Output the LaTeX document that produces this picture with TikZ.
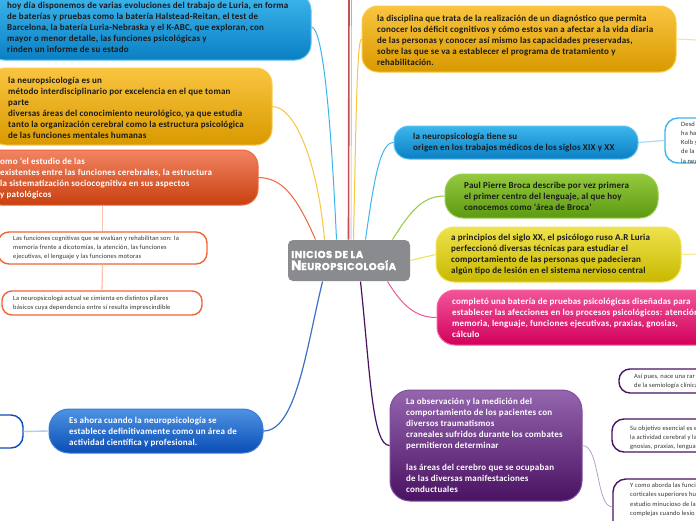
\documentclass[tikz,border=0pt]{standalone}
\usepackage{fontspec}
\setmainfont{Carlito}
\newfontfamily\bodyfont{Carlito}[LetterSpace=2.2]
\newfontfamily\smallfont{Carlito}[LetterSpace=2.5]
\newfontfamily\titlefont{Poppins}[LetterSpace=5, FakeBold=1.2]
\usetikzlibrary{calc}
\definecolor{blueA}{HTML}{3DB5EC}\definecolor{blueB}{HTML}{0A80C4}\definecolor{blueE}{HTML}{5CC4F2}
\definecolor{orA}{HTML}{F9C440}\definecolor{orB}{HTML}{D99A00}\definecolor{orE}{HTML}{FBCB45}
\definecolor{rdA}{HTML}{F28462}\definecolor{rdB}{HTML}{C8400F}\definecolor{rdE}{HTML}{F0643A}
\definecolor{grA}{HTML}{93C93E}\definecolor{grB}{HTML}{5C9A12}\definecolor{grE}{HTML}{9ACD48}
\definecolor{yeA}{HTML}{EEE24C}\definecolor{yeB}{HTML}{C9B800}\definecolor{yeE}{HTML}{F0E45A}
\definecolor{pkA}{HTML}{F2559A}\definecolor{pkB}{HTML}{D2005C}\definecolor{pkE}{HTML}{F4609F}
\definecolor{puA}{HTML}{9565AE}\definecolor{puB}{HTML}{4A1262}\definecolor{puE}{HTML}{8050A0}
\definecolor{dbA}{HTML}{4E93E2}\definecolor{dbB}{HTML}{0A4DB6}\definecolor{dbE}{HTML}{3A7CD8}
\definecolor{gray1}{HTML}{8A8B8F}
\definecolor{vline}{HTML}{C0504D}
\definecolor{txt}{HTML}{1A1A1A}
\tikzset{
  mbox/.style={rectangle, line width=1pt, inner sep=0pt},
  sbox/.style={rectangle, line width=1.4pt, fill=white, inner sep=0pt},
  mtext/.style={anchor=west, align=left, inner sep=0pt, font=\bodyfont\bfseries\fontsize{9}{11}\selectfont},
  stext/.style={anchor=west, align=left, inner sep=0pt, text=black!80, font=\smallfont\fontsize{6.5}{9.2}\selectfont},
  conn/.style={line width=1pt},
}
\begin{document}
\begin{tikzpicture}[x=1pt,y=-1pt]
\useasboundingbox (0,0) rectangle (696,520);
\fill[white] (0,0) rectangle (696,520);

% ---------- free ends ----------
\coordinate (topA) at (349,0);
\coordinate (topB) at (351.5,0);
\coordinate (rO) at (696,40);
\coordinate (rY) at (696,254);

% ---------- boxes ----------
\node[mbox, rounded corners=16pt, draw=blueE, top color=blueA, bottom color=blueB, minimum width=323, minimum height=66] (b1) at (149.5,27) {};
\node[mbox, rounded corners=16pt, draw=orE, top color=orA, bottom color=orB, minimum width=282, minimum height=77] (b2) at (131,106.5) {};
\node[mbox, rounded corners=16pt, draw=rdE, top color=rdA, bottom color=rdB, minimum width=273, minimum height=55] (b3) at (121.5,177.5) {};
\node[sbox, rounded corners=11pt, draw=rdE, minimum width=209, minimum height=32] (b4) at (102.5,248) {};
\node[sbox, rounded corners=10pt, draw=rdE, minimum width=200, minimum height=24] (b5) at (102,303) {};
\node[mbox, rounded corners=20pt, draw=dbE, top color=dbA, bottom color=dbB, minimum width=214, minimum height=44] (b6) at (156,431) {};
\node[sbox, rounded corners=12pt, draw=dbB, minimum width=63, minimum height=33] (b7) at (-8.5,431.5) {};
\node[mbox, rounded corners=5pt, fill=gray1, minimum width=122, minimum height=41] (ctr) at (349,260.5) {};
\node[mbox, rounded corners=16pt, draw=orE, top color=orA, bottom color=orB, minimum width=314, minimum height=66] (b9) at (519,39) {};
\node[mbox, rounded corners=15pt, draw=blueE, top color=blueA, bottom color=blueB, minimum width=244, minimum height=33] (b10) at (516,142.5) {};
\node[sbox, rounded corners=13pt, draw=blueA, minimum width=80, minimum height=45] (b11) at (705,140.5) {};
\node[mbox, rounded corners=18pt, draw=grE, top color=grA, bottom color=grB, minimum width=213, minimum height=44] (b12) at (551.5,196) {};
\node[mbox, rounded corners=18pt, draw=yeE, top color=yeA, bottom color=yeB, minimum width=245, minimum height=55] (b13) at (558.5,254.5) {};
\node[mbox, rounded corners=18pt, draw=pkE, top color=pkA, bottom color=pkB, minimum width=323, minimum height=55] (b14) at (598.5,317.5) {};
\node[mbox, rounded corners=20pt, draw=puE, top color=puA, bottom color=puB, minimum width=192, minimum height=111] (b15) at (486,445.5) {};
\node[sbox, rounded corners=11pt, draw=puB, minimum width=141, minimum height=24] (pa) at (689.5,381) {};
\node[sbox, rounded corners=12pt, draw=puB, minimum width=148, minimum height=33] (pb) at (686,435.5) {};
\node[sbox, rounded corners=13pt, draw=puB, minimum width=147, minimum height=81] (pc) at (686.5,519.5) {};

% ---------- connectors ----------
\draw[conn, color=rdE] ($(ctr.north west)+(28,0)$) .. controls (296,195) and (282,178) .. (b3.east);
\draw[conn, color=orA] ($(ctr.north west)+(37,0)$) .. controls (318,165) and (296,107) .. (b2.east);
\draw[conn, color=blueA] ($(ctr.north west)+(49,0)$) .. controls (331,120) and (323,28) .. (b1.east);
\draw[line width=1.6pt, color=vline] ($(ctr.north west)+(61,0)$) -- (topA);
\draw[line width=0.6pt, color=puA!60] ($(ctr.north west)+(63.5,0)$) -- (topB);
\draw[conn, color=orA] ($(ctr.north west)+(66,0)$) .. controls (356,120) and (357,40) .. (b9.west);
\draw[conn, color=blueA] ($(ctr.north west)+(78,0)$) .. controls (374,180) and (380,142.5) .. (b10.west);
\draw[conn, color=grA] ($(ctr.north west)+(105,0)$) .. controls (410,212) and (422,196) .. (b12.west);
\draw[conn, color=yeA] (ctr.east) -- (b13.west);
\draw[conn, color=pkA] ($(ctr.south west)+(100,0)$) .. controls (402,305) and (415,317.5) .. (b14.west);
\draw[line width=1.2pt, color=puB] ($(ctr.south west)+(73,0)$) .. controls (370,370) and (372,445.5) .. (b15.west);
\draw[line width=1.2pt, color=dbB!80] ($(ctr.south west)+(35,0)$) .. controls (306,350) and (296,431) .. (b6.east);
\draw[line width=1.4pt, color=dbA!45] (b6.west) -- (b7.east);
\draw[line width=1.2pt, color=rdA!50] (b4.north |- b3.south) -- (b4.north);
\draw[line width=1.2pt, color=rdA!50] (b4.south) -- (b5.north);
\draw[line width=1.2pt, color=blueA!45] (b10.east) -- (b11.west);
\draw[line width=1pt, color=orA!55] (b9.east) -- (rO);
\draw[line width=1pt, color=yeA!70] (b13.east) -- (rY);
\draw[line width=0.7pt, color=puA!70] (b15.east) .. controls (600,445.5) and (596,507) .. ($(pc.west)+(0,-12.5)$);

% ---------- texts ----------
\node[mtext, text=txt] (b1t) at (7,27) {hoy día disponemos de varias evoluciones del trabajo de Luria, en forma\\de baterías y pruebas como la batería Halstead-Reitan, el test de\\Barcelona, la batería Luria-Nebraska y el K-ABC, que exploran, con\\mayor o menor detalle, las funciones psicológicas y\\rinden un informe de su estado};
\node[mtext, text=txt] (b2t) at (8,107.5) {la neuropsicología es un\\método interdisciplinario por excelencia en el que toman\\parte\\diversas áreas del conocimiento neurológico, ya que estudia\\tanto la organización cerebral como la estructura psicológica\\de las funciones mentales humanas};
\node[mtext, text=white] (b3t) at (0,178.5) {omo ‘el estudio de las\\existentes entre las funciones cerebrales, la estructura\\la sistematización sociocognitiva en sus aspectos\\y patológicos};
\node[stext] (b4t) at (13,248) {Las funciones cognitivas que se evalúan y rehabilitan son: la\\memoria frente a dicotomías, la atención, las funciones\\ejecutivas, el lenguaje y las funciones motoras};
\node[stext] (b5t) at (13,303) {La neuropsicologá actual se cimienta en distintos pilares\\básicos cuya dependencia entre sí resulta imprescindible};
\node[mtext, text=white] (b6t) at (69,432) {Es ahora cuando la neuropsicología se\\establece definitivamente como un área de\\actividad científica y profesional.};
\node[anchor=west, align=left, inner sep=0pt, text=white, font=\titlefont\bfseries] (ctrt) at (291,260.5) {\fontsize{10}{16}\selectfont INICIOS DE LA\\{\fontsize{13.5}{16}\selectfont N}\fontsize{10}{16}\selectfont EUROPSICOLOGÍA};
\node[mtext, text=txt] (b9t) at (377,40) {la disciplina que trata de la realización de un diagnóstico que permita\\conocer los déficit cognitivos y cómo estos van a afectar a la vida diaria\\de las personas y conocer así mismo las capacidades preservadas,\\sobre las que se va a establecer el programa de tratamiento y\\rehabilitación.};
\node[mtext, text=txt] (b10t) at (413,142.5) {la neuropsicología tiene su\\origen en los trabajos médicos de los siglos XIX y XX};
\node[stext] (b11t) at (681,142.5) {Desd\\ha ha\\Kolb y\\de la\\la neu};
\node[mtext, text=txt] (b12t) at (464,196) {Paul Pierre Broca describe por vez primera\\el primer centro del lenguaje, al que hoy\\conocemos como ‘área de Broca’};
\node[mtext, text=txt] (b13t) at (451,254.5) {a principios del siglo XX, el psicólogo ruso A.R Luria\\perfeccionó diversas técnicas para estudiar el\\comportamiento de las personas que padecieran\\algún tipo de lesión en el sistema nervioso central};
\node[mtext, text=white] (b14t) at (452,317.5) {completó una batería de pruebas psicológicas diseñadas para\\establecer las afecciones en los procesos psicológicos: atención,\\memoria, lenguaje, funciones ejecutivas, praxias, gnosias,\\cálculo};
\node[mtext, text=white] (b15t) at (406,445) {La observación y la medición del\\comportamiento de los pacientes con\\diversos traumatismos\\craneales sufridos durante los combates\\permitieron determinar\\[11pt]las áreas del cerebro que se ocupaban\\de las diversas manifestaciones\\conductuales};
\node[stext] (pat) at (634,381) {Así pues, nace una rar\\de la semiología clínica};
\node[stext] (pbt) at (630,437.5) {Su objetivo esencial es e\\la actividad cerebral y la\\gnosias, praxias, lengua};
\node[stext, anchor=north west] (pct) at (630,483) {Y como aborda las funci\\corticales superiores hu\\estudio minucioso de la\\complejas cuando lesio};
\end{tikzpicture}
\end{document}
